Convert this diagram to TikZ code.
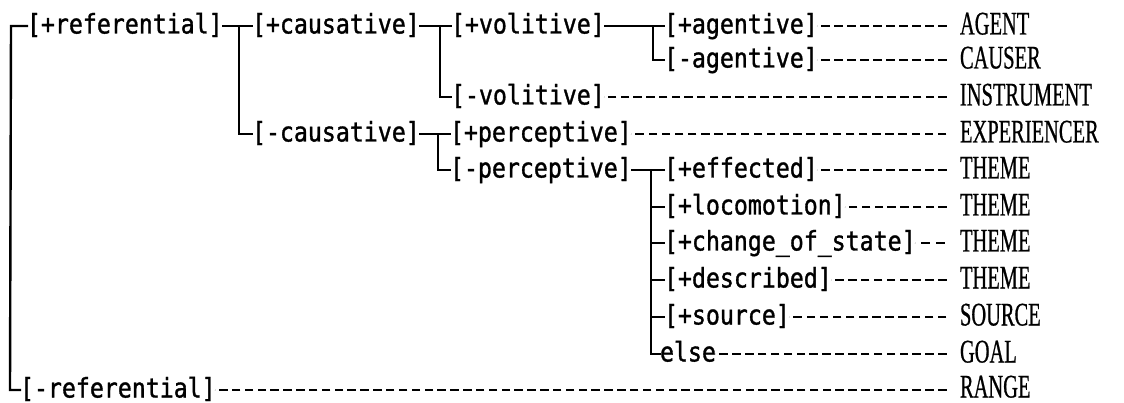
\documentclass[tikz,border=0pt]{standalone}
\usepackage{fontspec}
\usetikzlibrary{decorations}
\newfontfamily\lblfont[FakeStretch=0.86,FakeBold=1.2]{DejaVu Sans Mono}
\newfontfamily\rolefont[FakeStretch=0.62,FakeBold=0.6]{Liberation Serif}
\tikzset{
  lbl/.style={anchor=west, inner sep=0pt, outer sep=0pt, font=\lblfont\fontsize{27}{27}\selectfont, text height=20pt, text depth=5pt},
  role/.style={anchor=west, inner sep=0pt, outer sep=0pt, font=\rolefont\fontsize{33}{33}\selectfont, text height=20pt, text depth=3pt},
  tree/.style={line width=2.4pt, line cap=rect},
  leader/.style={line width=2.2pt, dash pattern=on 8.5pt off 4.2pt, dash expand off}
}
\newcommand{\leaderline}[2]{\draw[leader] ([xshift=-9pt]#1.west) -- ([xshift=-1pt]#2.east);}
\begin{document}
\begin{tikzpicture}[x=1pt, y=-1pt]
\useasboundingbox[fill=white] (0,0) rectangle (1124,403);
% labels
\node[lbl] (refp) at (27,26) {[+referential]};
\node[lbl] (refm) at (20,390) {[-referential]};
\node[lbl] (causp) at (252,26) {[+causative]};
\node[lbl] (causm) at (252,134) {[-causative]};
\node[lbl] (volp) at (451,26) {[+volitive]};
\node[lbl] (volm) at (451,97) {[-volitive]};
\node[lbl] (percp) at (450,134) {[+perceptive]};
\node[lbl] (percm) at (450,170) {[-perceptive]};
\node[lbl] (agp) at (664,26) {[+agentive]};
\node[lbl] (agm) at (664,60) {[-agentive]};
\node[lbl] (eff) at (664,170) {[+effected]};
\node[lbl] (loc) at (664,207) {[+locomotion]};
\node[lbl] (chg) at (664,243) {[+change\_of\_state]};
\node[lbl] (des) at (664,280) {[+described]};
\node[lbl] (src) at (664,317) {[+source]};
\node[lbl] (els) at (660,354) {else};
% roles
\node[role] (rAgent) at (960,26) {AGENT};
\node[role] (rCauser) at (960,60) {CAUSER};
\node[role] (rInstr) at (960,97) {INSTRUMENT};
\node[role] (rExp) at (960,134) {EXPERIENCER};
\node[role] (rTh1) at (960,170) {THEME};
\node[role] (rTh2) at (960,207) {THEME};
\node[role] (rTh3) at (960,243) {THEME};
\node[role] (rTh4) at (960,280) {THEME};
\node[role] (rSrc) at (960,317) {SOURCE};
\node[role] (rGoal) at (960,354) {GOAL};
\node[role] (rRange) at (960,389) {RANGE};
% junctions
\coordinate (v0t) at (11,26);
\coordinate (v0b) at (10,390);
\coordinate (j1) at (239,26);
\coordinate (j2) at (440,26);
\coordinate (j3) at (438,134);
\coordinate (j4) at (653,26);
\coordinate (j5) at (651,170);
% tree lines
\draw[tree] (refp.west) -- (v0t) -- (v0b) -- (refm.west);
\draw[tree] (refp.east) -- (causp.west);
\draw[tree] (j1) |- (causm.west);
\draw[tree] (causp.east) -- (volp.west);
\draw[tree] (j2) |- (volm.west);
\draw[tree] (causm.east) -- (percp.west);
\draw[tree] (j3) |- (percm.west);
\draw[tree] (volp.east) -- (agp.west);
\draw[tree] (j4) |- (agm.west);
\draw[tree] (percm.east) -- (eff.west);
\draw[tree] (j5) |- (els.west);
\foreach \n in {loc,chg,des,src} \draw[tree] (j5|-\n.west) -- (\n.west);
% leaders
\leaderline{rAgent}{agp}
\leaderline{rCauser}{agm}
\leaderline{rInstr}{volm}
\leaderline{rExp}{percp}
\leaderline{rTh1}{eff}
\leaderline{rTh2}{loc}
\leaderline{rTh3}{chg}
\leaderline{rTh4}{des}
\leaderline{rSrc}{src}
\leaderline{rGoal}{els}
\draw[leader] ([xshift=-9pt]rRange.west|-refm.east) -- ([xshift=-1pt]refm.east);
\end{tikzpicture}
\end{document}
